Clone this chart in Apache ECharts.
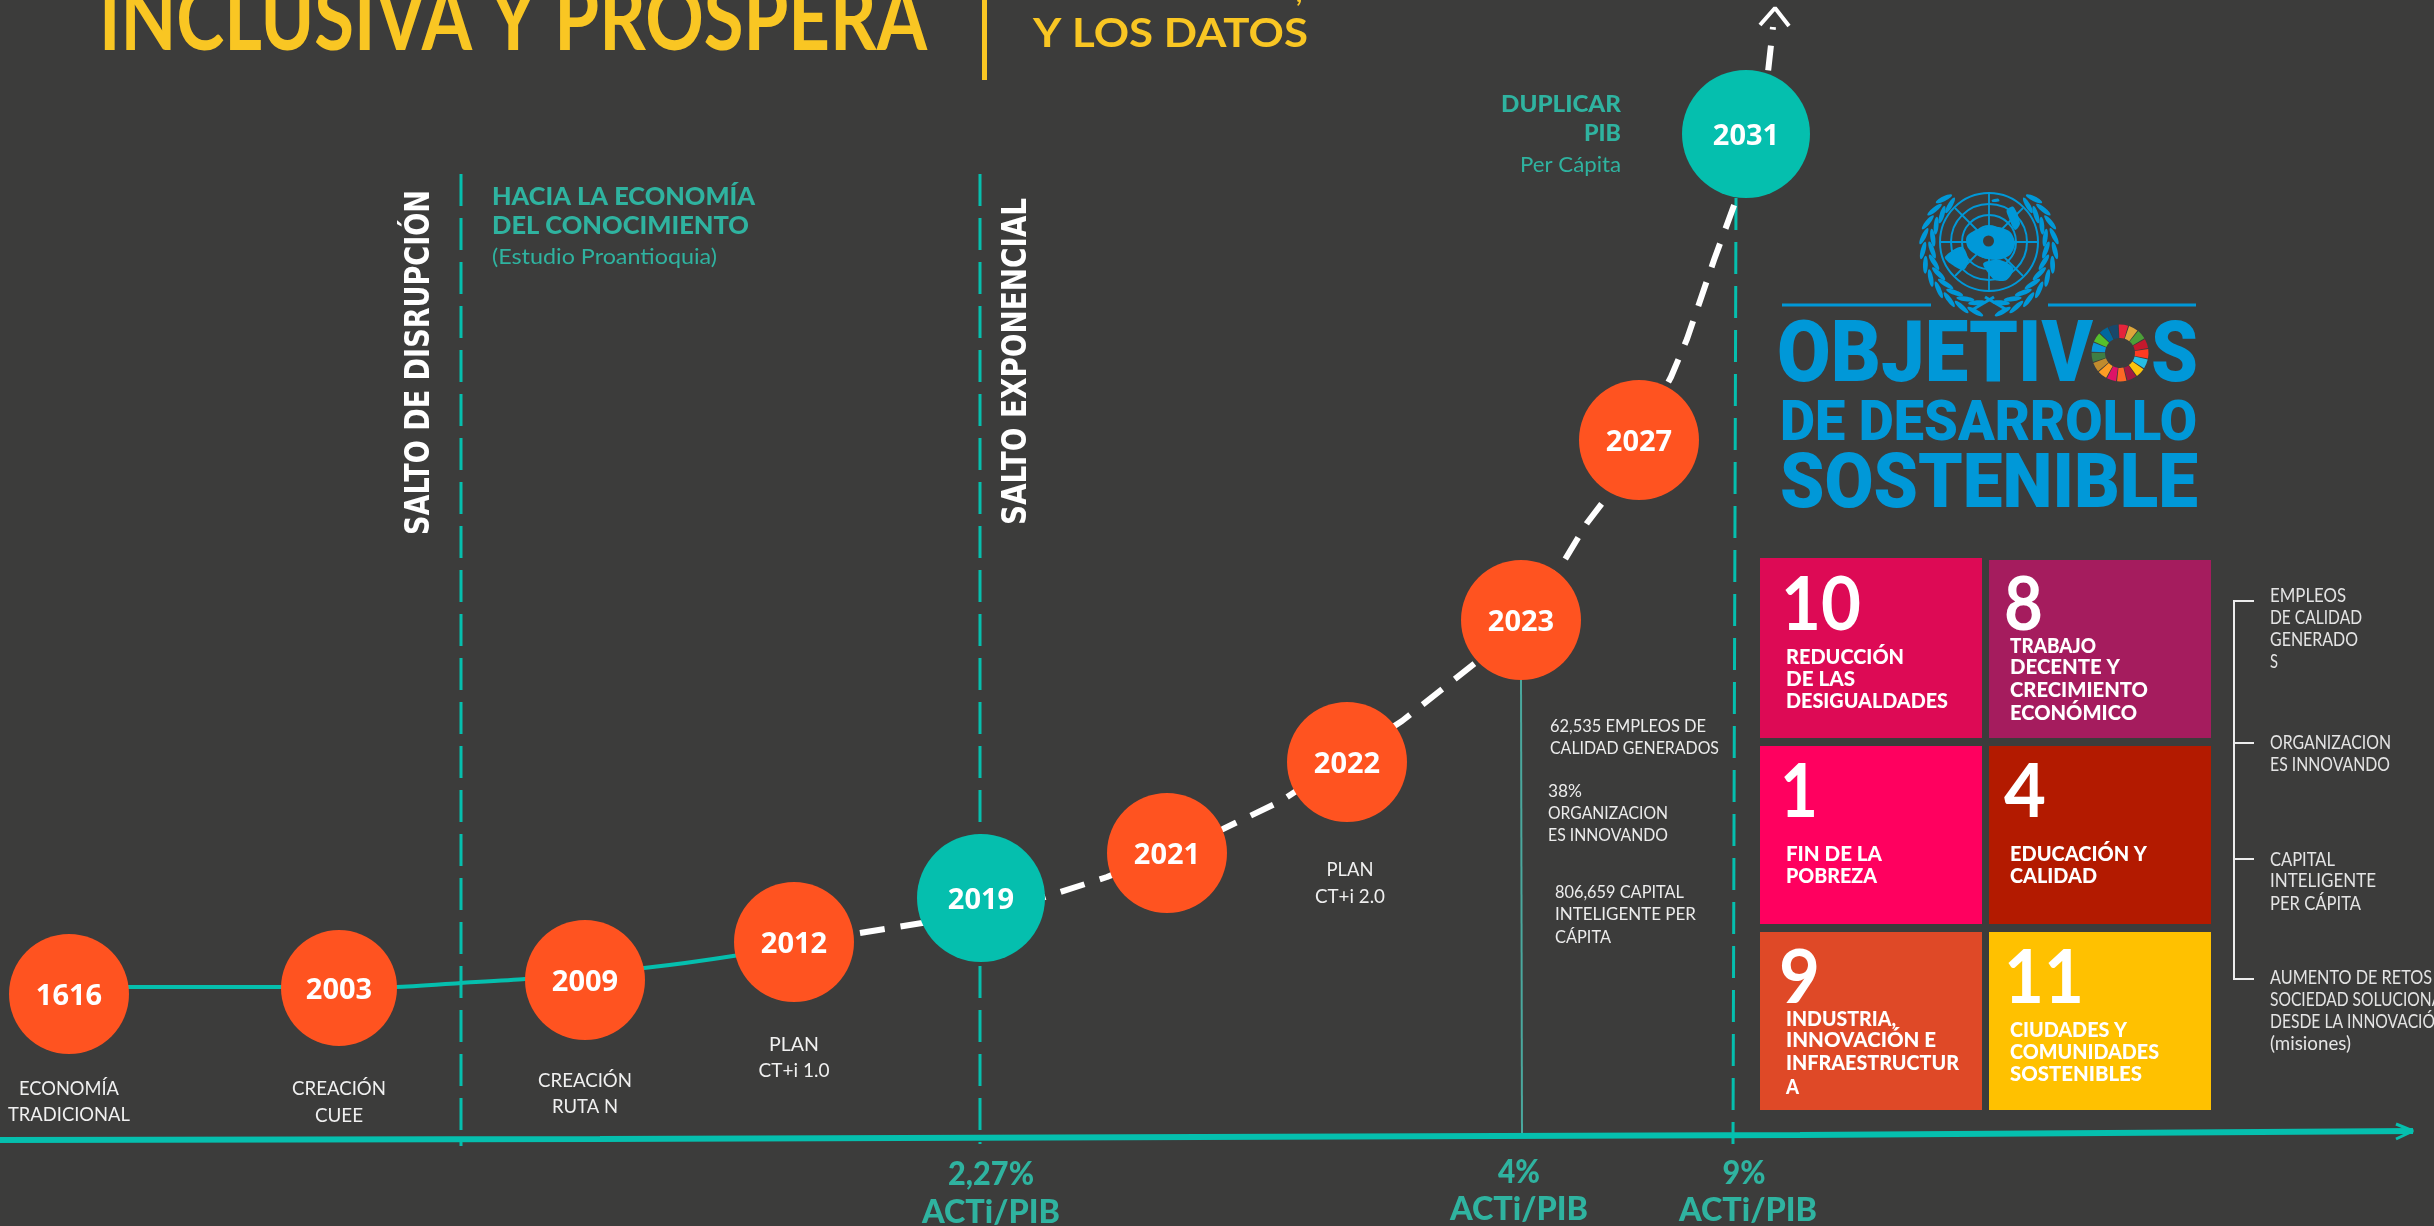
<!DOCTYPE html>
<html><head><meta charset="utf-8">
<style>html,body{margin:0;padding:0;background:#3c3c3b;overflow:hidden}#c{width:2434px;height:1226px}</style>
<script src="https://cdn.jsdelivr.net/npm/echarts@6/dist/echarts.min.js"></script>
</head><body><div id="c"></div>
<script>
// ---- values ----
const years = ['1616','2003','2009','2012','2019','2021','2022','2023','2027','2031'];
const timeline = [69,339,585,794,981,1167,1347,1521,1639,1746];
const level = [232,238,246,284,328,373,464,606,786,1092];
const tealPathX = [69,396,461,525,644,733,790];
const tealPathLevel = [239,239,243,247,258,270,281];
const projectedX = [860,922,981,1045,1107,1223,1281,1402,1479,1558,1587,1610,1671,1687,1714,1736,1768,1773];
const projectedLevel = [293,303,316,329,349,397,425,505,566,655,703,733,849,887,966,1026,1154,1199];
const arrowHeadX = [1760,1775,1789];
const arrowHeadLevel = [1201,1218,1200];
const markerDisruption = [[461,1052],[461,80]];
const markerExponential = [[980,1052],[980,82]];
const markerGoal = [[1736,1028],[1733,82]];
const marker2023 = [[1521,546],[1522,89]];
const baselineX = [0,600,1200,1800,2413];
const baselineLevel = [86,87,89,91,95];
const baselineHeadX = [2396,2413,2396];
const baselineHeadLevel = [102,95,87];
const highlightYears = ['2019','2031'];

const C={bg:'#3c3c3b',orange:'#ff5320',teal:'#05bfae',tealText:'#2fb3a0',yellow:'#f9c623',blue:'#0098d8',white:'#ffffff',soft:'#ececec'};
const mc=document.createElement('canvas').getContext('2d');
const G=[];
function T(text,x,y,size,o){o=o||{};
  const font=(o.weight||'normal')+' '+size+'px '+(o.family||'Lato');
  mc.font=font;const m=mc.measureText(text).width;
  const sx=o.w?o.w/m:1;
  G.push({type:'text',x:x,y:y+(o.rot?0:2),rotation:o.rot||0,scaleX:sx,z:o.z||20,silent:true,
    style:{text:text,fill:o.color||C.soft,font:font,align:o.align||'left',textAlign:o.align||'left',verticalAlign:'middle',textVerticalAlign:'middle'}});
}
function R(x,y,w,h,c){G.push({type:'rect',silent:true,z:10,shape:{x:x,y:y,width:w,height:h},style:{fill:c}});}
function L(x1,y1,x2,y2,c,w){G.push({type:'line',silent:true,z:12,shape:{x1,y1,x2,y2},style:{stroke:c,lineWidth:w}});}

// title
T('INCLUSIVA Y PROSPERA',99,19,90,{weight:'bold',color:C.yellow,w:828});
T('Y LOS DATOS',1033,32,41,{weight:'bold',color:C.yellow,w:275});
T(',',1296,-8,26,{weight:'bold',color:C.yellow});
R(982,0,5,80,C.yellow);

// section headers
T('SALTO DE DISRUPCIÓN',420,535,33,{weight:'bold',family:'DejaVu Sans',color:C.white,w:345,rot:Math.PI/2});
T('SALTO EXPONENCIAL',1017,525,33,{weight:'bold',family:'DejaVu Sans',color:C.white,w:327,rot:Math.PI/2});
T('HACIA LA ECONOMÍA',492,195,24,{weight:'900',color:C.tealText,w:263});
T('DEL CONOCIMIENTO',492,224,24,{weight:'900',color:C.tealText,w:257});
T('(Estudio Proantioquia)',492,255,22,{color:C.tealText,w:225});
T('DUPLICAR',1621,103,23,{weight:'900',color:C.tealText,w:120,align:'right'});
T('PIB',1621,132,23,{weight:'900',color:C.tealText,w:37,align:'right'});
T('Per Cápita',1621,163,21,{color:C.tealText,w:101,align:'right'});

// captions under circles
[['ECONOMÍA',69,1088,100],['TRADICIONAL',69,1114,122],['CREACIÓN',339,1088,94],['CUEE',339,1115,48],
 ['CREACIÓN',585,1080,94],['RUTA N',585,1106,66],['PLAN',794,1044,50],['CT+i 1.0',794,1070,71],
 ['PLAN',1350,869,47],['CT+i 2.0',1350,896,70]].forEach(a=>T(a[0],a[1],a[2]-1,20,{w:a[3],align:'center',color:'#f0f0f0'}));

// 2023 notes
[['62,535 EMPLEOS DE',1550,725,156],['CALIDAD GENERADOS',1550,747,169],['38%',1548,790,34],['ORGANIZACION',1548,812,120],['ES INNOVANDO',1548,834,120],
 ['806,659 CAPITAL',1555,891,129],['INTELIGENTE PER',1555,913,141],['CÁPITA',1555,936,56]].forEach(a=>T(a[0],a[1],a[2]-1,18,{w:a[3]}));

// ACTi/PIB
[['2,27%',991,1172,86],['ACTi/PIB',991,1210,138],['4%',1519,1170,42],['ACTi/PIB',1519,1207,138],['9%',1744,1171,43],['ACTi/PIB',1748,1208,138]]
 .forEach(a=>T(a[0],a[1],a[2],33,{weight:'900',color:C.tealText,w:a[3],align:'center'}));

// ODS tiles
const tileFill=['#dd0a55','#a51c5e','#ff005f','#b31a00','#df4927','#ffc100'];
[[1760,558,180],[1989,560,178],[1760,746,178],[1989,746,178],[1760,932,178],[1989,932,178]].forEach((p,i)=>R(p[0],p[1],222,p[2],tileFill[i]));
[['10',1781,604,80],['8',2004,604,39],['1',1780,791,38],['4',2004,791,42],['9',1779,977,41],['11',2004,977,80]]
 .forEach(a=>T(a[0],a[1],a[2],74,{weight:'bold',color:C.white,w:a[3]}));
[['REDUCCIÓN',1786,656,118],['DE LAS',1786,678,69],['DESIGUALDADES',1786,700,162],
 ['TRABAJO',2010,645,86],['DECENTE Y',2010,666,110],['CRECIMIENTO',2010,689,138],['ECONÓMICO',2010,712,127],
 ['FIN DE LA',1786,853,96],['POBREZA',1786,875,91],['EDUCACIÓN Y',2010,853,137],['CALIDAD',2010,875,87],
 ['INDUSTRIA,',1786,1018,110],['INNOVACIÓN E',1786,1039,150],['INFRAESTRUCTUR',1786,1062,173],['A',1786,1086,13],
 ['CIUDADES Y',2010,1029,117],['COMUNIDADES',2010,1051,149],['SOSTENIBLES',2010,1073,132]]
 .forEach(a=>T(a[0],a[1],a[2],20,{weight:'900',color:C.white,w:a[3]}));

// bracket + list
L(2234,601,2234,979,C.soft,2);
[601,743,859,979].forEach(y=>L(2233,y,2254,y,C.soft,2));
[['EMPLEOS',596,76],['DE CALIDAD',618,92],['GENERADO',640,88],['S',662,8],['ORGANIZACION',743,121],['ES INNOVANDO',765,120],
 ['CAPITAL',860,65],['INTELIGENTE',881,106],['PER CÁPITA',904,91],['AUMENTO DE RETOS',978,162],['SOCIEDAD SOLUCIONADOS',1000,205],['DESDE LA INNOVACIÓN',1022,177],['(misiones)',1044,81]]
 .forEach(a=>T(a[0],2270,a[1]-2,19,{w:a[2],color:'#e4e4e4'}));

// ODS logo text
const roboto={weight:'900',family:'Roboto',color:C.blue};
T('OBJETIV',1777,358,85,Object.assign({w:316},roboto));
T('S',2151,358,85,Object.assign({w:47},roboto));
T('DE DESARROLLO',1780,424,56,Object.assign({w:417},roboto));
T('SOSTENIBLE',1780,486,76,Object.assign({w:418},roboto));
L(1782,305,1931,305,C.blue,3);L(2048,305,2196,305,C.blue,3);

// SDG wheel
const wheel=['#e5243b','#dda63a','#4c9f38','#c5192d','#ff3a21','#26bde2','#fcc30b','#a21942','#fd6925','#dd1367','#fd9d24','#bf8b2e','#3f7e44','#0a97d9','#56c02b','#00689d','#19486a'];
wheel.forEach((c,i)=>{const s=2*Math.PI/17,a=-Math.PI/2+i*s-s*0.12;
  G.push({type:'sector',silent:true,z:12,shape:{cx:2120,cy:353,r:28.5,r0:15,startAngle:a,endAngle:a+s*0.9,clockwise:true},style:{fill:c}});});

// UN emblem
const cx=1989,cy=242;
[49,38,27,16].forEach(r=>G.push({type:'circle',silent:true,z:12,shape:{cx,cy,r},style:{fill:'none',stroke:C.blue,lineWidth:2}}));
[[0,-49,0,49],[-49,0,49,0],[-34,-34,34,34],[-34,34,34,-34]].forEach(a=>L(cx+a[0],cy+a[1],cx+a[2],cy+a[3],C.blue,1.8));
[[[200,170],[240,145],[290,140],[330,155],[345,190],[330,225],[290,240],[240,230],[205,205]],
 [[135,230],[185,200],[205,240],[190,270],[150,250]],
 [[250,250],[300,240],[340,265],[320,300],[285,300],[265,280]],
 [[320,90],[340,80],[360,130],[345,150],[325,110]],
 [[275,60],[295,56],[298,64],[278,66]]].forEach(p=>G.push({type:'polygon',silent:true,z:13,shape:{points:p.map(q=>[1900+q[0]/3,180+q[1]/3]),smooth:0.3},style:{fill:C.blue}}));
G.push({type:'circle',silent:true,z:14,shape:{cx:1988.5,cy:241,r:5.5},style:{fill:C.bg}});
[-1,1].forEach(side=>{
  for(let k=0;k<11;k++){
    const ang=(12+k*12.5)*Math.PI/180; // measured from straight down
    [[57,0.3],[66,-0.3]].forEach(v=>{
      const px=cx+side*v[0]*Math.sin(ang),py=cy+5+v[0]*Math.cos(ang);
      const tang=Math.atan2(-Math.sin(ang),side*Math.cos(ang));
      G.push({type:'ellipse',silent:true,z:12,x:px,y:py,rotation:-(tang+side*v[1]),shape:{cx:0,cy:0,rx:9,ry:2.4},style:{fill:C.blue}});
    });
  }
});
L(1972,310,1994,297,C.blue,3);L(2007,310,1985,297,C.blue,3);

const teal=(name,d,w)=>({name,type:'line',data:d,showSymbol:false,silent:true,z:2,lineStyle:{color:C.teal,width:w,type:[32,12]}});
const zip=(a,b)=>a.map((v,i)=>[v,b[i]]);
const chart=echarts.init(document.getElementById('c'),null,{renderer:'canvas'});
chart.setOption({
  animation:false,backgroundColor:C.bg,
  grid:{left:0,right:0,top:0,bottom:0},
  xAxis:{type:'value',min:0,max:2434,show:false},
  yAxis:{type:'value',min:0,max:1226,show:false},
  graphic:{elements:G},
  series:[
    teal('Disrupción',markerDisruption,3),
    teal('Exponencial',markerExponential,3),
    teal('Meta',markerGoal,3),
    {name:'2023',type:'line',data:marker2023,showSymbol:false,silent:true,z:2,lineStyle:{color:'#4aa89e',width:2}},
    {name:'Eje',type:'line',data:zip(baselineX,baselineLevel),showSymbol:false,silent:true,z:3,lineStyle:{color:C.teal,width:6}},
    {name:'Eje punta',type:'line',data:zip(baselineHeadX,baselineHeadLevel),showSymbol:false,silent:true,z:3,lineStyle:{color:C.teal,width:3}},
    {name:'Trayectoria',type:'line',data:zip(tealPathX,tealPathLevel),smooth:0.2,showSymbol:false,silent:true,z:3,lineStyle:{color:C.teal,width:4}},
    {name:'Proyección',type:'line',data:zip(projectedX,projectedLevel),showSymbol:false,silent:true,z:3,lineStyle:{color:C.white,width:6,type:[25,16]}},
    {name:'Punta',type:'line',data:zip(arrowHeadX,arrowHeadLevel),showSymbol:false,silent:true,z:3,lineStyle:{color:C.white,width:4}},
    {name:'Hitos',type:'scatter',silent:true,z:5,
      data:years.map((y,i)=>({value:[timeline[i],level[i]],name:y,
        symbolSize:highlightYears.includes(y)?128:(y==='2003'?116:120),
        itemStyle:{color:highlightYears.includes(y)?C.teal:C.orange,opacity:1}})),
      label:{show:true,position:'inside',offset:[0,3],formatter:p=>p.name,color:'#fff',fontFamily:'Noto Sans',fontWeight:'bold',fontSize:29}}
  ]
});
</script></body></html>
